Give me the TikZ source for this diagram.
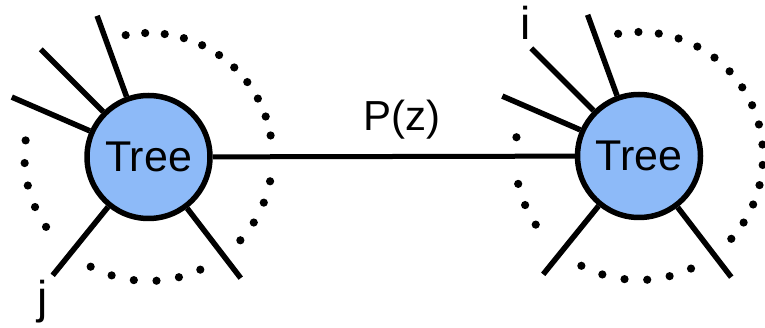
\documentclass[tikz,border=0pt]{standalone}
\usepackage{fontspec}
\setmainfont{Liberation Sans}
\definecolor{treeblue}{RGB}{141,186,248}
\begin{document}
\begin{tikzpicture}[x=1pt,y=-1pt,
  treenode/.style={circle,draw=black,fill=treeblue,line width=5.5pt,minimum size=123pt,inner sep=0pt,font=\fontsize{43}{43}\selectfont},
  leg/.style={line width=5.5pt},
  bead/.style={fill=black},
  lbl/.style={font=\fontsize{42}{42}\selectfont,inner sep=0pt,anchor=base}]
\useasboundingbox (0,0) rectangle (765,328);
\node[treenode] (L) at (148.5,157) {Tree};
\node[treenode] (R) at (639,156) {Tree};
\draw[line width=5pt] (L) -- (R);
\foreach \n in {L,R}{
  \foreach \a/\len in {110/86,135/88,156.6/85,231/88,307.5/88}{
    \draw[leg] (\n.\a) -- ++(-\a:\len);
  }
}
% dots left tree
\foreach \i in {0,...,10}{\fill[bead] (L.center) ++({-(100.6-9.06*\i)}:124) circle (4.1pt);}
\foreach \i in {0,...,3}{\fill[bead] (L.center) ++({-(-11.3-10.3*\i)}:124) circle (4.1pt);}
\foreach \i in {0,...,5}{\fill[bead] (L.center) ++({-(242.2+10.5*\i)}:124) circle (4.1pt);}
\foreach \i in {0,...,4}{\fill[bead] (L.center) ++({-(172.3+10.5*\i)}:124) circle (4.1pt);}
% dots right tree
\foreach \i in {0,...,15}{\fill[bead] (R.center) ++({-(99.7-9.44*\i)}:124) circle (4.1pt);}
\foreach \i in {0,...,5}{\fill[bead] (R.center) ++({-(242.3+10.5*\i)}:124) circle (4.1pt);}
\foreach \a in {171.3,193,203.3,213.6}{\fill[bead] (R.center) ++({-\a}:124) circle (4.1pt);}
\node[lbl] (pz) at (401.5,131) {P(z)};
\node[lbl,font=\fontsize{46}{46}\selectfont] (i) at (526,40) {i};
\node[lbl,font=\fontsize{46}{46}\selectfont] (j) at (43,314) {j};
\end{tikzpicture}
\end{document}
